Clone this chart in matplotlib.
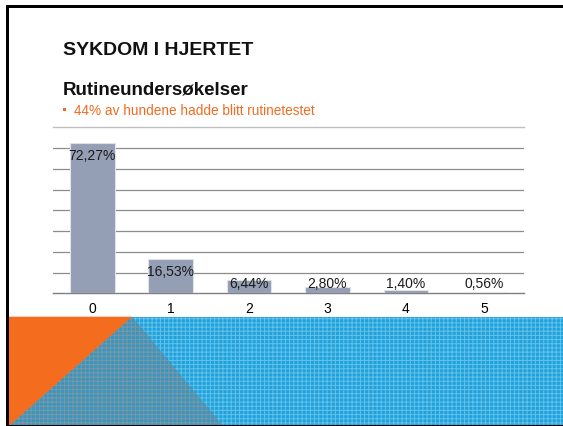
import matplotlib
matplotlib.use("Agg")
import matplotlib.pyplot as plt
from matplotlib.patches import Polygon, Rectangle

categories = ["0", "1", "2", "3", "4", "5"]
shares = [72.27, 16.53, 6.44, 2.80, 1.40, 0.56]
labels = ["72,27%", "16,53%", "6,44%", "2,80%", "1,40%", "0,56%"]

title = "SYKDOM I HJERTET"
subtitle = "Rutineundersøkelser"
bullet = "44% av hundene hadde blitt rutinetestet"

W, H = 563, 426
plt.rcParams["font.family"] = ["Liberation Sans", "DejaVu Sans"]
plt.rcParams["hatch.linewidth"] = 0.7
fig = plt.figure(figsize=(W / 100, H / 100), dpi=100)

# full-figure layer in pixel coordinates for slide decoration
bg = fig.add_axes([0, 0, 1, 1])
bg.set_xlim(0, W)
bg.set_ylim(H, 0)
bg.axis("off")

bg.add_patch(Rectangle((9, 316.7), W - 9, H - 316.7, facecolor="#22a2da",
                       edgecolor="#62c2ec", hatch="++++", lw=0, zorder=1))
bg.add_patch(Polygon([(132, 316.7), (9.5, H), (223, H)], closed=True,
                     facecolor="#3796bf", edgecolor="#7f97a3", hatch="++++",
                     lw=0, zorder=2))
bg.add_patch(Polygon([(9, 316.7), (132, 316.7), (9, H)], closed=True,
                     color="#f46d1e", lw=0, zorder=3))
# slide frame
bg.add_patch(Rectangle((6, 5), W - 6, 2.5, color="black", lw=0, zorder=5))
bg.add_patch(Rectangle((6, 5), 3, H - 5, color="black", lw=0, zorder=5))
bg.add_patch(Rectangle((6, H - 1.2), W - 6, 1.2, color="black", lw=0, zorder=5))

bg.text(63, 55, title, fontsize=14, fontweight="bold", va="baseline", color="#111111")
bg.text(63, 94.3, subtitle, fontsize=13.5, fontweight="bold", va="baseline", color="#111111")
bg.add_patch(Rectangle((63, 108), 3, 3, color="#f26b21", lw=0))
bg.text(74, 115, bullet, fontsize=9.8, va="baseline", color="#f26b21")
bg.plot([53, 523.5], [127, 127], color="#bfbfbf", lw=1)

# chart
x0, x1 = 53 / W, 523.5 / W
base = 293.3
px_per_pct = 2.076
ymax = 75
top = base - ymax * px_per_pct
ax = fig.add_axes([x0, (H - base) / H, x1 - x0, (base - top) / H])
ax.patch.set_alpha(0)
pos = list(range(len(categories)))
ax.bar(pos, shares, width=0.57, color="#949eb4", edgecolor="#dfe2e8",
       linewidth=0.8, zorder=3)
ax.set_xlim(-0.5, len(categories) - 0.5)
ax.set_ylim(0, ymax)
ax.set_yticks(range(10, 71, 10))
ax.yaxis.grid(True, color="#8c8c8c", lw=0.9, zorder=0)
ax.tick_params(axis="y", left=False, labelleft=False)
ax.set_xticks(pos, categories)
ax.tick_params(axis="x", length=0, pad=6, labelsize=10)
for s in ["left", "right", "top"]:
    ax.spines[s].set_visible(False)
ax.spines["bottom"].set_color("#7f7f7f")
ax.spines["bottom"].set_linewidth(1)

for p, v, t in zip(pos, shares, labels):
    ax.text(p, max(v - 6.2, 4.5), t, ha="center", va="center",
            fontsize=10, color="#1a1a1a", zorder=4)

fig.savefig("out.png", dpi=100)
